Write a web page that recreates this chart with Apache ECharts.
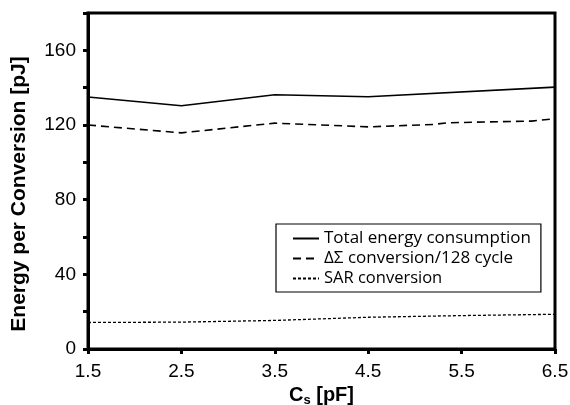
<!DOCTYPE html>
<html><head><meta charset="utf-8">
<script src="https://cdn.jsdelivr.net/npm/echarts@6/dist/echarts.min.js"></script>
<style>html,body{margin:0;padding:0;background:#fff}#c{width:570px;height:405px}</style>
</head><body><div id="c"></div>
<script>
const seriesNames = ['Total energy consumption', 'ΔΣ conversion/128 cycle', 'SAR conversion'];
const totalX = [1.5, 2.5, 3.5, 4.5, 6.5];
const totalY = [135, 130.3, 136.2, 135.1, 140.3];
const dsX = [1.5, 2.5, 3.5, 4.5, 5.2, 5.35, 6.25, 6.5];
const dsY = [120, 115.8, 121, 119, 120.3, 121.2, 122.1, 123.4];
const sarX = [1.5, 2.5, 3.5, 4.5, 5.5, 6.5];
const sarY = [14.2, 14.4, 15.3, 17.0, 17.9, 18.6];
const xTicks = [1.5, 2.5, 3.5, 4.5, 5.5, 6.5];
const yLabels = [0, 40, 80, 120, 160];

const zip = (xs, ys) => xs.map((x, i) => [x, ys[i]]);
const chart = echarts.init(document.getElementById('c'), null, {renderer: 'canvas'});
const lineWidth = 1.6;
chart.setOption({
  animation: false,
  backgroundColor: '#fff',
  grid: {left: 88, right: 15, top: 13, bottom: 56, show: true, borderColor: '#000', borderWidth: 3,
    containLabel: false, outerBoundsMode: 'none'},
  xAxis: {
    type: 'value', min: xTicks[0], max: xTicks[xTicks.length - 1], interval: 1,
    axisLine: {show: true, lineStyle: {color: '#000', width: 3}},
    axisTick: {show: true, inside: false, length: 5, lineStyle: {color: '#000', width: 3}},
    splitLine: {show: false},
    axisLabel: {color: '#000', fontFamily: 'Liberation Sans', fontSize: 19, margin: 13,
      formatter: v => v.toFixed(1)},
    name: '{a|C}{b|s}{a| [pF]}', nameLocation: 'middle', nameGap: 33,
    nameTextStyle: {rich: {
      a: {fontFamily: 'Liberation Sans', fontWeight: 'bold', fontSize: 20, color: '#000'},
      b: {fontFamily: 'Liberation Sans', fontWeight: 'bold', fontSize: 13, color: '#000', verticalAlign: 'bottom', padding: [9, 0, 0, 0]}
    }}
  },
  yAxis: {
    type: 'value', min: 0, max: 180, interval: 20,
    axisLine: {show: true, lineStyle: {color: '#000', width: 3}},
    axisTick: {show: true, inside: false, length: 5, lineStyle: {color: '#000', width: 3}},
    splitLine: {show: false},
    axisLabel: {color: '#000', fontFamily: 'Liberation Sans', fontSize: 19, margin: 12,
      formatter: v => yLabels.includes(v) ? String(v) : ''},
    name: 'Energy per Conversion [pJ]', nameLocation: 'middle', nameGap: 58,
    nameTextStyle: {fontFamily: 'Liberation Sans', fontWeight: 'bold', fontSize: 21, color: '#000', padding: [0, 26, 0, 0]}
  },
  legend: {
    orient: 'vertical', left: 276, top: 224,
    borderColor: '#000', borderWidth: 1.2, padding: [6, 10, 5, 16],
    itemWidth: 26, itemHeight: 14, itemGap: 3,
    itemStyle: {opacity: 0},
    textStyle: {fontFamily: 'Open Sans', fontSize: 17, color: '#000'},
    data: [
      {name: seriesNames[0]},
      {name: seriesNames[1]},
      {name: seriesNames[2], textStyle: {fontSize: 16.5}}
    ]
  },
  series: [
    {name: seriesNames[0], type: 'line', data: zip(totalX, totalY), symbol: 'none',
      lineStyle: {color: '#000', width: lineWidth, type: 'solid'}, itemStyle: {color: '#000'}},
    {name: seriesNames[1], type: 'line', data: zip(dsX, dsY), symbol: 'none',
      lineStyle: {color: '#000', width: lineWidth, type: [8, 5]}, itemStyle: {color: '#000'}},
    {name: seriesNames[2], type: 'line', data: zip(sarX, sarY), symbol: 'none',
      lineStyle: {color: '#000', width: 1.3, type: [3, 2]}, itemStyle: {color: '#000'}}
  ]
});
</script></body></html>
